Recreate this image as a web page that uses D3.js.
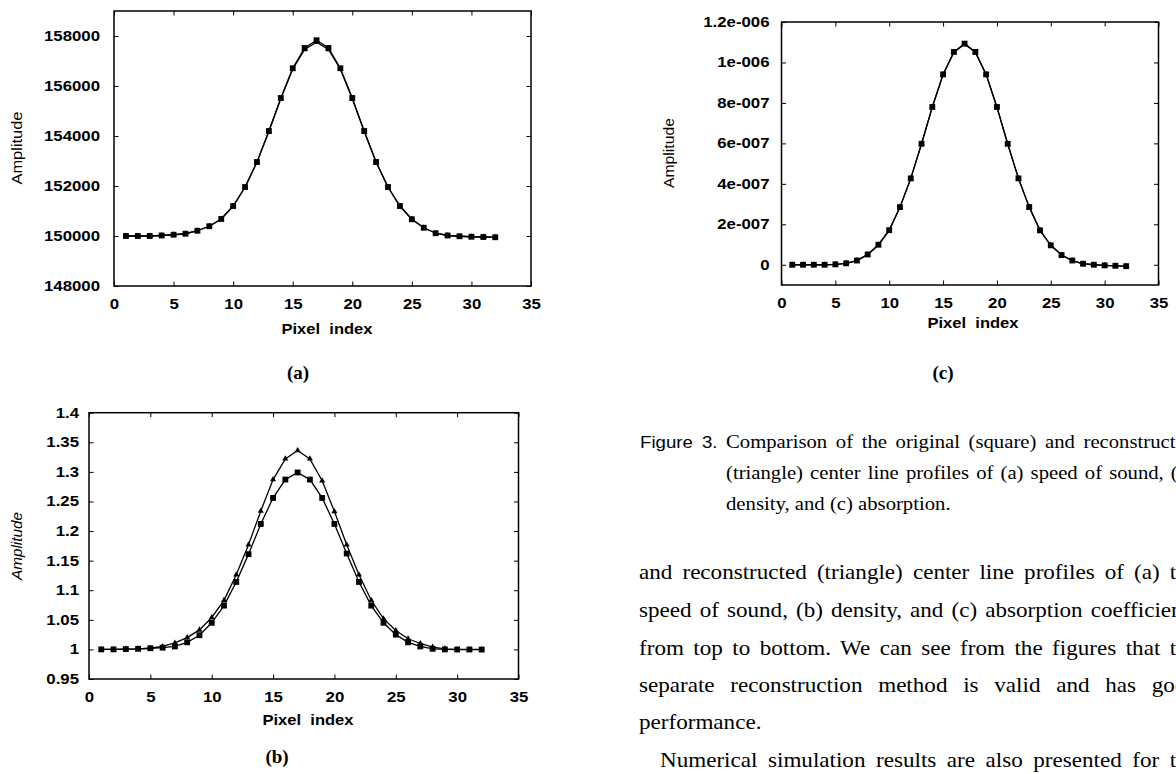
<!DOCTYPE html>
<html>
<head>
<meta charset="utf-8">
<script src="https://cdn.jsdelivr.net/npm/d3@7"></script>
<style>
  body { margin: 0; background: #fff; }
  svg { display: block; }
</style>
</head>
<body>
<svg id="fig" width="1176" height="774"></svg>
<script>
// ---------------- data ----------------
const pixelIndex = [1,2,3,4,5,6,7,8,9,10,11,12,13,14,15,16,17,18,19,20,21,22,23,24,25,26,27,28,29,30,31,32];
const xTicks = [0,5,10,15,20,25,30,35];
const xTickLabels = ["0","5","10","15","20","25","30","35"];

// (a) speed of sound
const speedOriginal = [150000,150000,150000,150020,150050,150090,150210,150390,150680,151200,151960,152960,154200,155520,156710,157520,157830,157520,156710,155520,154200,152960,151960,151200,150670,150330,150110,150020,149990,149970,149960,149950];
const speedRecon    = [150000,150000,150000,150020,150050,150090,150210,150390,150680,151190,151950,152950,154180,155490,156670,157460,157750,157460,156670,155490,154180,152950,151950,151190,150670,150330,150110,150020,149990,149970,149960,149950];
const speedTicks = [148000,150000,152000,154000,156000,158000];
const speedTickLabels = ["148000","150000","152000","154000","156000","158000"];

// (b) density
const densityOriginal = [1.0,1.0,1.0005,1.001,1.002,1.003,1.005,1.012,1.024,1.045,1.074,1.114,1.161,1.212,1.256,1.287,1.299,1.287,1.256,1.212,1.162,1.114,1.074,1.045,1.025,1.012,1.005,1.001,1.0,0.9998,0.9998,0.9997];
const densityRecon    = [1.0,1.0,1.0005,1.001,1.002,1.005,1.011,1.020,1.033,1.054,1.083,1.126,1.177,1.234,1.287,1.322,1.336,1.322,1.285,1.233,1.177,1.126,1.083,1.052,1.032,1.018,1.010,1.004,1.001,1.0,1.0,1.0];
const densityTicks = [0.95,1,1.05,1.1,1.15,1.2,1.25,1.3,1.35,1.4];
const densityTickLabels = ["0.95","1","1.05","1.1","1.15","1.2","1.25","1.3","1.35","1.4"];

// (c) absorption
const absorptionOriginal = [0,0,0,0,2e-9,7e-9,2.1e-8,5.1e-8,9.9e-8,1.71e-7,2.85e-7,4.27e-7,5.98e-7,7.8e-7,9.41e-7,1.052e-6,1.093e-6,1.052e-6,9.41e-7,7.8e-7,5.98e-7,4.27e-7,2.85e-7,1.70e-7,9.6e-8,4.8e-8,2.1e-8,5e-9,0,-3e-9,-5e-9,-7e-9];
const absorptionRecon    = [0,0,0,0,2e-9,7e-9,2.1e-8,5.0e-8,9.8e-8,1.70e-7,2.84e-7,4.26e-7,5.97e-7,7.79e-7,9.40e-7,1.050e-6,1.090e-6,1.050e-6,9.40e-7,7.79e-7,5.97e-7,4.26e-7,2.84e-7,1.70e-7,9.6e-8,4.8e-8,2.1e-8,5e-9,0,-3e-9,-5e-9,-7e-9];
const absorptionTicks = [0,2e-7,4e-7,6e-7,8e-7,1e-6,1.2e-6];
const absorptionTickLabels = ["0","2e-007","4e-007","6e-007","8e-007","1e-006","1.2e-006"];

// text
const axisTitleX = "Pixel  index";
const axisTitleY = "Amplitude";
const captionLabel = "Figure";
const captionNumber = "3.";
const captionLines = [
  "Comparison of the original (square) and reconstructed",
  "(triangle) center line profiles of (a) speed of sound, (b)",
  "density, and (c) absorption."
];
const bodyLines = [
  "and reconstructed (triangle) center line profiles of (a) the",
  "speed of sound, (b) density, and (c) absorption coefficients",
  "from top to bottom. We can see from the figures that the",
  "separate reconstruction method is valid and has good",
  "performance.",
  "Numerical simulation results are also presented for the"
];

// ---------------- layout ----------------
const svg = d3.select("#fig");
const SANS = "'Liberation Sans', Arial, Helvetica, sans-serif";
const SERIF = "'Liberation Serif', 'Times New Roman', serif";
const SX = 1.2;

const panels = [
  { x0:114, x1:531, yb:286, yt:11, yDomain:[148000,159000], yTicks:speedTicks, yLabels:speedTickLabels,
    orig:speedOriginal, recon:speedRecon, yPad:14,
    ylab:{x:22, y:148, len:73, italic:false}, xlab:{x:327, y:334}, cap:{t:"(a)", x:298, y:379} },
  { x0:89, x1:518.5, yb:679, yt:412.7, yDomain:[0.95,1.4], yTicks:densityTicks, yLabels:densityTickLabels,
    orig:densityOriginal, recon:densityRecon, yPad:10,
    ylab:{x:22, y:546, len:68, italic:true}, xlab:{x:308, y:725}, cap:{t:"(b)", x:277, y:763} },
  { x0:781.5, x1:1158.5, yb:285, yt:22, yDomain:[-1e-7,1.2e-6], yTicks:absorptionTicks, yLabels:absorptionTickLabels,
    orig:absorptionOriginal, recon:absorptionRecon, yPad:12,
    ylab:{x:674, y:153, len:70, italic:false}, xlab:{x:973, y:328}, cap:{t:"(c)", x:943, y:379} }
];

function styleAxis(sel) {
  sel.select(".domain").remove();
  sel.selectAll(".tick line").attr("stroke","#000").attr("stroke-width",1);
  sel.selectAll(".tick text").attr("fill","#000").attr("font-family",SANS)
     .attr("font-weight","bold").attr("font-size",14);
}

function drawPanel(p) {
  const x = d3.scaleLinear().domain([0,35]).range([p.x0,p.x1]);
  const y = d3.scaleLinear().domain(p.yDomain).range([p.yb,p.yt]);
  const g = svg.append("g");

  const bottom = g.append("g").attr("transform",`translate(0,${p.yb})`)
    .call(d3.axisBottom(x).tickValues(xTicks).tickFormat((d,i)=>xTickLabels[i])
      .tickSizeInner(-4.5).tickSizeOuter(0).tickPadding(13));
  styleAxis(bottom);
  bottom.selectAll(".tick text").attr("transform",`scale(${SX},1)`);

  const top = g.append("g").attr("transform",`translate(0,${p.yt})`)
    .call(d3.axisTop(x).tickValues(xTicks).tickFormat("").tickSizeInner(-4.5).tickSizeOuter(0));
  styleAxis(top);

  const left = g.append("g").attr("transform",`translate(${p.x0},0)`)
    .call(d3.axisLeft(y).tickValues(p.yTicks).tickFormat((d,i)=>p.yLabels[i])
      .tickSizeInner(-4.5).tickSizeOuter(0).tickPadding(p.yPad));
  styleAxis(left);
  left.selectAll(".tick text").attr("transform",`scale(${SX},1)`).attr("x",-p.yPad/SX);

  const right = g.append("g").attr("transform",`translate(${p.x1},0)`)
    .call(d3.axisRight(y).tickValues(p.yTicks).tickFormat("").tickSizeInner(-4.5).tickSizeOuter(0));
  styleAxis(right);

  g.append("rect").attr("x",p.x0).attr("y",p.yt).attr("width",p.x1-p.x0).attr("height",p.yb-p.yt)
    .attr("fill","none").attr("stroke","#000").attr("stroke-width",1.5);

  const line = vals => d3.line().x((d,i)=>x(pixelIndex[i])).y(d=>y(d))(vals);
  g.append("path").attr("d",line(p.recon)).attr("fill","none").attr("stroke","#000").attr("stroke-width",1.3);
  g.append("path").attr("d",line(p.orig)).attr("fill","none").attr("stroke","#000").attr("stroke-width",1.3);

  g.selectAll("path.tri").data(p.recon).join("path").attr("class","tri")
    .attr("d",d3.symbol(d3.symbolTriangle,16))
    .attr("transform",(d,i)=>`translate(${x(pixelIndex[i])},${y(d)})`).attr("fill","#000");
  g.selectAll("path.sq").data(p.orig).join("path").attr("class","sq")
    .attr("d",d3.symbol(d3.symbolSquare,34))
    .attr("transform",(d,i)=>`translate(${x(pixelIndex[i])},${y(d)})`).attr("fill","#000");

  // axis titles
  g.append("text").attr("transform",`translate(${p.ylab.x},${p.ylab.y}) rotate(-90)`)
    .attr("text-anchor","middle").attr("font-family",SANS).attr("font-size",14)
    .attr("font-style",p.ylab.italic?"italic":"normal")
    .attr("textLength",p.ylab.len).attr("lengthAdjust","spacingAndGlyphs").text(axisTitleY);
  g.append("text").attr("x",p.xlab.x).attr("y",p.xlab.y).attr("text-anchor","middle")
    .attr("font-family",SANS).attr("font-weight","bold").attr("font-size",15)
    .style("white-space","pre").attr("textLength",91).attr("lengthAdjust","spacingAndGlyphs").text(axisTitleX);
  g.append("text").attr("x",p.cap.x).attr("y",p.cap.y).attr("text-anchor","middle")
    .attr("font-family",SERIF).attr("font-weight","bold").attr("font-size",19).text(p.cap.t);
}
panels.forEach(drawPanel);

// ---------------- right-hand text ----------------
function textLine(x, y, str, width, size, family, sx) {
  const t = svg.append("text").attr("transform",`translate(${x},${y}) scale(${sx},1)`)
    .attr("font-family",family).attr("font-size",size).attr("fill","#000")
    .style("white-space","pre").text(str);
  if (width) {
    const natural = t.node().getComputedTextLength();
    const spaces = (str.match(/ /g)||[]).length;
    if (spaces) t.style("word-spacing", ((width/sx - natural)/spaces) + "px");
  }
  return t;
}

textLine(640, 448, captionLabel, 0, 16.5, SANS, 1.13);
textLine(702, 448, captionNumber, 0, 16.5, SANS, 1.13);
const capBase = [448, 479, 510];
captionLines.forEach((s,i)=>textLine(726, capBase[i], s, i<2 ? 469 : 0, 18.5, SERIF, 1.12));

const bodyBase = [579, 617, 655, 692, 729, 767];
bodyLines.forEach((s,i)=>{
  const x0 = i===5 ? 660 : 639;
  const w = i===4 ? 0 : 1198 - x0;
  textLine(x0, bodyBase[i], s, w, 21, SERIF, 1.1);
});
</script>
</body>
</html>
